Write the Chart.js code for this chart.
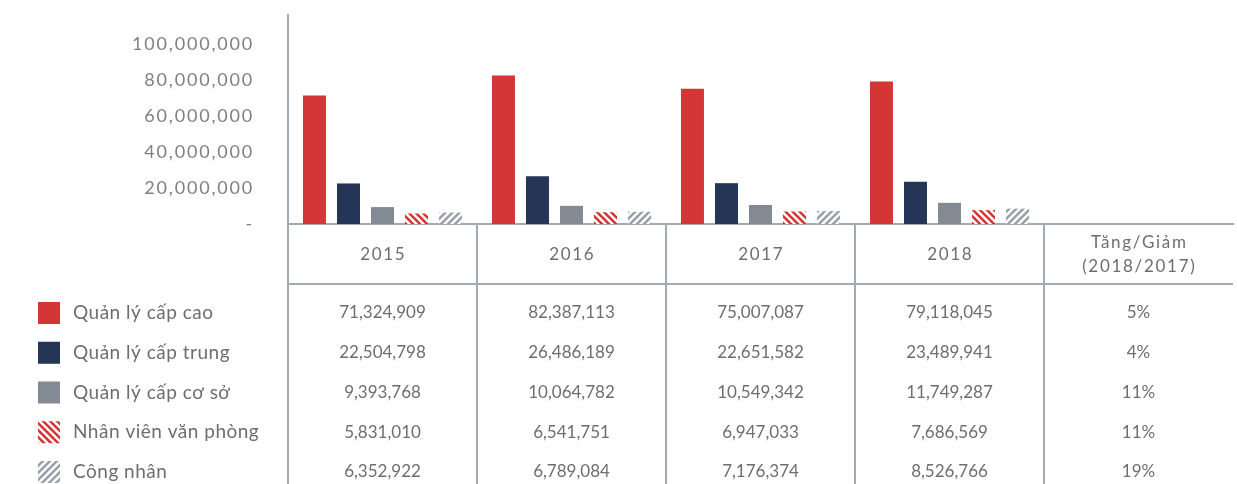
<!DOCTYPE html>
<html><head><meta charset="utf-8">
<script src="https://cdn.jsdelivr.net/npm/chart.js@4/dist/chart.umd.min.js"></script>
<style>html,body{margin:0;padding:0;background:#fff;}#wrap{width:1237px;height:484px;}</style>
</head><body><div id="wrap"><canvas id="c" width="1237" height="484"></canvas></div>
<script>
// ---- data ----
const categories = ['2015', '2016', '2017', '2018', 'Tăng/Giảm\n(2018/2017)'];
const seriesNames = ['Quản lý cấp cao', 'Quản lý cấp trung', 'Quản lý cấp cơ sở', 'Nhân viên văn phòng', 'Công nhân'];
const seniorMgmt = [71324909, 82387113, 75007087, 79118045, null];
const middleMgmt = [22504798, 26486189, 22651582, 23489941, null];
const juniorMgmt = [9393768, 10064782, 10549342, 11749287, null];
const officeStaff = [5831010, 6541751, 6947033, 7686569, null];
const workers = [6352922, 6789084, 7176374, 8526766, null];
const changeLabels = ['5%', '4%', '11%', '11%', '19%'];
const yTickValues = [0, 20000000, 40000000, 60000000, 80000000, 100000000];

// ---- styles ----
const RED = '#d43535', NAVY = '#253555', GREY = '#838a94', LINE = '#a4aab3', TXT = '#6e6e6e', TICK = '#808080';
const FONT = 'Lato, "Noto Sans", sans-serif';

function hatch(color, dir) {
  const s = 7, c = document.createElement('canvas');
  c.width = s; c.height = s;
  const g = c.getContext('2d');
  g.fillStyle = '#fff'; g.fillRect(0, 0, s, s);
  g.strokeStyle = color; g.lineWidth = 2.6;
  g.beginPath();
  for (let k = -1; k <= 1; k++) {
    if (dir > 0) { g.moveTo(k * s - 1, s + 1); g.lineTo(k * s + s + 1, -1); }
    else { g.moveTo(k * s - 1, -1); g.lineTo(k * s + s + 1, s + 1); }
  }
  g.stroke();
  return g.createPattern(c, 'repeat');
}
const redHatch = hatch(RED, -1), greyHatch = hatch('#9aa0a9', 1);
const fills = [RED, NAVY, GREY, redHatch, greyHatch];
const seriesData = [seniorMgmt, middleMgmt, juniorMgmt, officeStaff, workers];

const tablePlugin = {
  id: 'tablePlugin',
  beforeDraw(chart) { chart.ctx.letterSpacing = '1.8px'; },
  afterDraw(chart) {
    const { ctx, chartArea: a } = chart;
    const H = chart.height;
    const n = categories.length;
    const colW = (a.right - a.left) / n;
    ctx.save();
    ctx.letterSpacing = '0px';
    ctx.strokeStyle = LINE; ctx.lineWidth = 2;
    ctx.beginPath();
    ctx.moveTo(a.left, a.bottom); ctx.lineTo(a.left, H);
    for (let i = 1; i < n; i++) { const xx = Math.round(a.left + i * colW); ctx.moveTo(xx, a.bottom); ctx.lineTo(xx, H); }
    ctx.moveTo(a.left, a.bottom + 60); ctx.lineTo(a.right, a.bottom + 60);
    ctx.stroke();

    ctx.textAlign = 'center'; ctx.textBaseline = 'middle';
    // header
    ctx.fillStyle = TXT;
    ctx.font = '17px ' + FONT;
    ctx.letterSpacing = '1.7px';
    categories.forEach((c, i) => {
      const cx = a.left + (i + 0.5) * colW;
      const lines = c.split('\n');
      if (lines.length === 1) ctx.fillText(lines[0], cx + 0.8, a.bottom + 31);
      else { ctx.fillText(lines[0], cx + 0.8, a.bottom + 19); ctx.fillText(lines[1], cx + 0.8, a.bottom + 43); }
    });
    // rows
    for (let r = 0; r < seriesData.length; r++) {
      const y = a.bottom + 89 + r * 39.75;
      ctx.letterSpacing = '0px';
      ctx.font = '17px ' + FONT; ctx.fillStyle = TXT; ctx.textAlign = 'center';
      for (let i = 0; i < n - 1; i++) {
        const cx = a.left + (i + 0.5) * colW;
        ctx.fillText(seriesData[r][i].toLocaleString('en-US'), cx, y);
      }
      ctx.fillText(changeLabels[r], a.left + (n - 0.5) * colW, y);
      // legend
      ctx.fillStyle = fills[r];
      ctx.fillRect(38, y - 11, 22, 22);
      ctx.fillStyle = TXT; ctx.textAlign = 'left';
      ctx.font = '19px ' + FONT;
      ctx.letterSpacing = '0.5px';
      ctx.fillText(seriesNames[r], 73, y);
    }
    ctx.restore();
  }
};

new Chart(document.getElementById('c'), {
  type: 'bar',
  data: {
    labels: categories,
    datasets: seriesNames.map((nm, i) => ({
      label: nm, data: seriesData[i], backgroundColor: fills[i], borderWidth: 0,
      barPercentage: 0.676, categoryPercentage: 0.9
    }))
  },
  options: {
    responsive: false, animation: false, devicePixelRatio: 1,
    layout: { padding: { left: 0, right: 4, top: 15, bottom: 260 } },
    plugins: { legend: { display: false }, tooltip: { enabled: false } },
    scales: {
      x: {
        grid: { display: false }, ticks: { display: false },
        border: { display: true, color: LINE, width: 2 },
        afterFit(s) { s.height = 0; s.paddingLeft = 0; s.paddingRight = 0; s.paddingTop = 0; s.paddingBottom = 0; }
      },
      y: {
        min: 0, max: 116000000,
        grid: { display: false },
        border: { display: true, color: LINE, width: 2 },
        afterBuildTicks(s) { s.ticks = yTickValues.map(v => ({ value: v })); },
        afterFit(s) { s.width = 288; s.paddingTop = 0; s.paddingBottom = 0; s.paddingLeft = 0; s.paddingRight = 0; },
        ticks: {
          padding: 26, color: TICK, font: { family: FONT, size: 18 },
          callback: v => v === 0 ? '-' : v.toLocaleString('en-US')
        }
      }
    }
  },
  plugins: [tablePlugin]
});
</script></body></html>
